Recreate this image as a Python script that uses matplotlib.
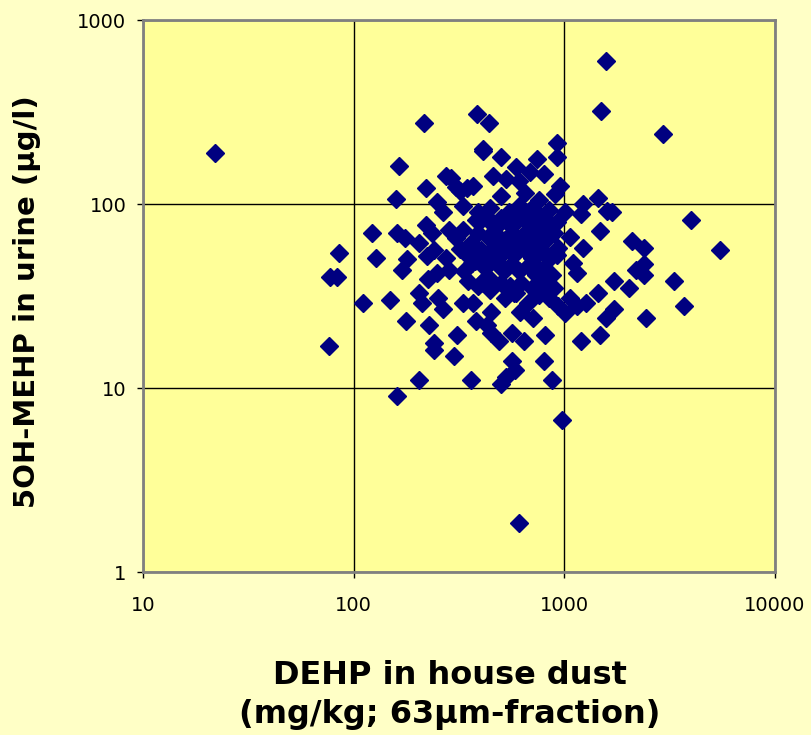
import matplotlib

matplotlib.use("Agg")
import matplotlib.pyplot as plt

# DEHP in house dust (mg/kg) vs 5OH-MEHP in urine (ug/l)
dehp_dust = [
    22, 1580, 1500, 2950, 385, 440, 410, 410, 500, 590,
    925, 925, 740, 460, 530, 610, 690, 800, 950, 900,
    500, 760, 650, 370, 275, 320, 330, 1450, 1230, 1600,
    1680, 4000, 215, 165, 220, 158, 290, 250, 265, 305,
    345,
    122, 85, 77, 83, 111, 76, 128, 148, 160, 175,
    220, 235, 205, 180, 170, 222, 240, 275, 305, 330,
    285, 380, 360, 430, 475, 475, 545, 590, 640, 545,
    500, 415, 365, 285, 225, 250, 205, 252, 265, 210,
    178, 228, 240, 240, 300, 310, 205, 360, 160, 330,
    370, 380, 430, 450, 490, 450, 400, 430, 350, 545,
    590, 615, 670, 565, 640, 810, 710, 850, 930, 1010,
    1150, 1270, 800, 890, 1060, 565, 585, 530, 500, 800,
    870, 1200, 1470, 1580, 1720, 2450, 3700, 3300, 2030, 1720,
    1440, 2380, 2200, 2380, 2100, 2380, 5500, 1480, 1230, 1150,
    1100, 1060, 1010, 1200, 850, 810, 930, 810, 710, 740,
    660, 970, 610,
    400, 445, 500, 550, 580, 650, 720, 760, 850,
    390, 435, 470, 525, 565, 610, 685, 740, 820, 890,
    355, 400, 455, 500, 540, 580, 650, 700, 760, 850, 920,
    375, 420, 470, 525, 565, 610, 670, 730, 800, 870,
    445, 500, 550, 625, 700, 790, 580, 525, 760, 445,
    355, 320, 335, 390,
    610, 700, 445, 390, 920,
]
ohmehp_urine = [
    190, 600, 320, 240, 310, 275, 200, 195, 180, 158,
    215, 180, 175, 142, 137, 133, 150, 145, 126, 113,
    110, 105, 115, 126, 142, 118, 98, 108, 100, 92,
    90, 82, 275, 160, 122, 107, 138, 103, 90, 123,
    122,
    70, 54, 40, 40, 29, 17, 51, 30, 70, 65,
    77, 70, 61, 50, 44, 52, 56, 51, 65, 72,
    72, 82, 61, 85, 75, 61, 90, 80, 69, 59,
    45, 51, 48, 44, 39, 42, 33, 31, 27, 29,
    23, 22, 17.5, 16, 15, 19.5, 11, 11, 9, 29,
    29, 23, 22, 20, 18, 26, 37, 40, 38, 35,
    33, 26, 29, 20, 18, 19.5, 24, 31, 28, 25.5,
    28, 29, 38, 35, 31, 14, 12.6, 11.5, 10.5, 14,
    11, 18, 19.5, 24, 27, 24, 28, 38, 35, 38,
    33, 47, 44, 41, 63, 58, 56, 71, 58, 42,
    48, 66, 90, 88, 93, 72, 58, 54, 48, 66,
    90, 6.7, 1.85,
    82, 80, 84, 77, 87, 82, 77, 87, 80,
    70, 66, 70, 64, 70, 63, 67, 61, 64, 70,
    59, 56, 57, 53, 57, 53, 56, 51, 55, 50, 53,
    49, 45, 49, 44, 47, 43, 46, 41, 45, 41,
    39, 37, 36, 37, 35, 36, 33, 31, 32, 34,
    51, 57, 43, 36,
    98, 95, 95, 91, 80,
]

x_ticks = [10, 100, 1000, 10000]
y_ticks = [1, 10, 100, 1000]

fig = plt.figure(figsize=(8.12, 7.35), dpi=100, facecolor="#ffffc6")
ax = fig.add_axes([143 / 812, 1 - 572 / 735, 632 / 812, 552 / 735])
ax.set_facecolor("#ffff99")
ax.set_xscale("log")
ax.set_yscale("log")
ax.set_xlim(10, 10000)
ax.set_ylim(1, 1000)

ax.plot(dehp_dust, ohmehp_urine, linestyle="none", marker="D", ms=9,
        color="#000080", mec="#000080", zorder=3)

ax.set_axisbelow(True)
ax.grid(True, which="major", color="black", lw=1.0)
ax.set_xticks(x_ticks, labels=[str(t) for t in x_ticks])
ax.set_yticks(y_ticks, labels=[str(t) for t in y_ticks])
ax.minorticks_off()
ax.tick_params(axis="both", direction="out", length=4, width=1, color="black",
               labelsize=14)
ax.tick_params(axis="x", pad=13)
ax.tick_params(axis="y", pad=8)

for sp in ax.spines.values():
    sp.set_color("#808080")
    sp.set_linewidth(2)

ax.set_ylabel("5OH-MEHP in urine (µg/l)", fontsize=21, fontweight="bold",
              va="center")
ax.yaxis.set_label_coords(-0.1835, 0.49)
ax.set_xlabel("DEHP in house dust\n(mg/kg; 63µm-fraction)", fontsize=23,
              fontweight="bold", linespacing=1.35, va="center")
ax.xaxis.set_label_coords(0.486, -0.223)

fig.savefig("out.png", dpi=100, facecolor=fig.get_facecolor())
